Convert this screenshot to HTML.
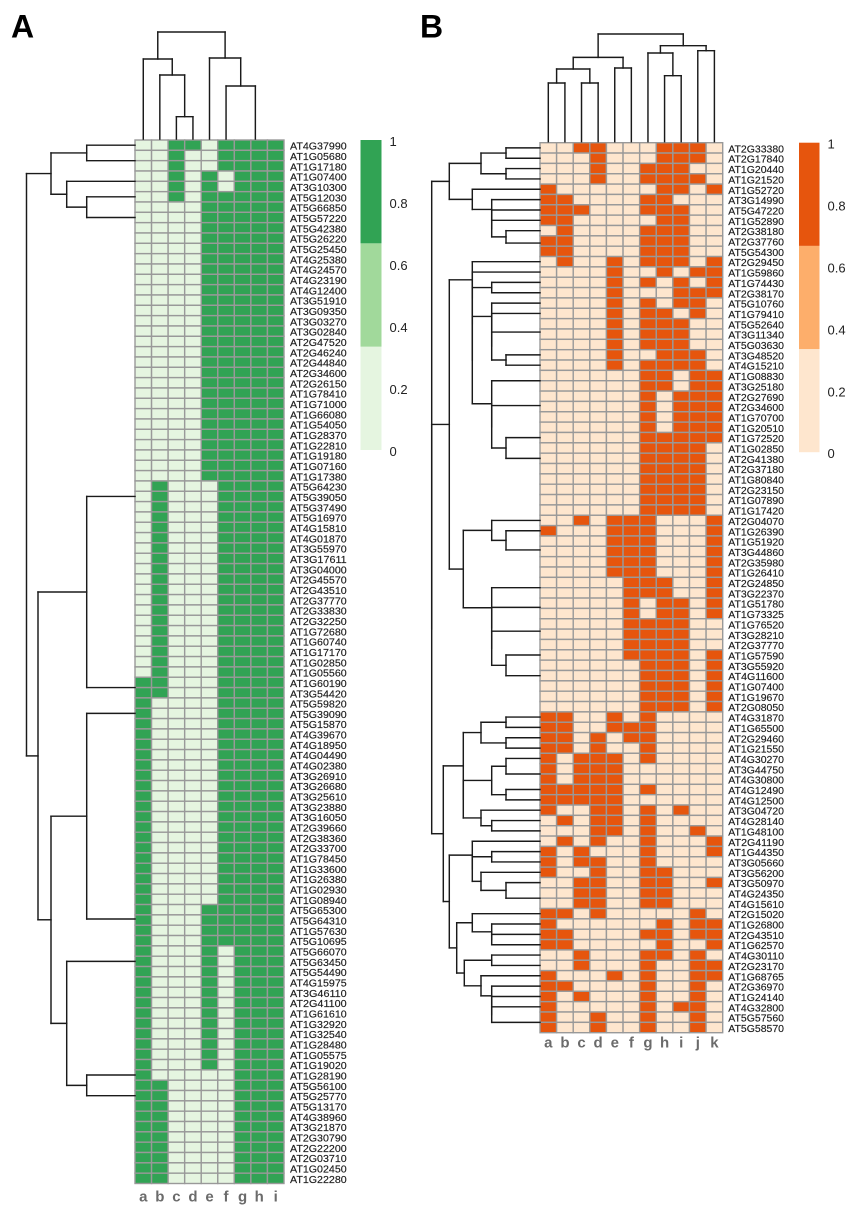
<!DOCTYPE html>
<html lang="en">
<head>
<meta charset="utf-8">
<title>Heatmaps A and B</title>
<style>
html,body{margin:0;padding:0;background:#fff;}
svg{display:block;}
text{font-family:"Liberation Sans",Arial,sans-serif;}
</style>
</head>
<body>
<svg id="figure" xmlns="http://www.w3.org/2000/svg" width="854" height="1208" viewBox="0 0 854 1208">
  <rect x="0" y="0" width="854" height="1208" fill="#ffffff"/>
  <text x="11" y="37.5" font-size="32" font-weight="bold" fill="#000">A</text>
  <text x="420" y="37.5" font-size="32" font-weight="bold" fill="#000">B</text>
</svg>
<script>
const columnsA = ["a","b","c","d","e","f","g","h","i"];
const genesA = ["AT4G37990","AT1G05680","AT1G17180","AT1G07400","AT3G10300","AT5G12030","AT5G66850","AT5G57220","AT5G42380","AT5G26220","AT5G25450","AT4G25380","AT4G24570","AT4G23190","AT4G12400","AT3G51910","AT3G09350","AT3G03270","AT3G02840","AT2G47520","AT2G46240","AT2G44840","AT2G34600","AT2G26150","AT1G78410","AT1G71000","AT1G66080","AT1G54050","AT1G28370","AT1G22810","AT1G19180","AT1G07160","AT1G17380","AT5G64230","AT5G39050","AT5G37490","AT5G16970","AT4G15810","AT4G01870","AT3G55970","AT3G17611","AT3G04000","AT2G45570","AT2G43510","AT2G37770","AT2G33830","AT2G32250","AT1G72680","AT1G60740","AT1G17170","AT1G02850","AT1G05560","AT1G60190","AT3G54420","AT5G59820","AT5G39090","AT5G15870","AT4G39670","AT4G18950","AT4G04490","AT4G02380","AT3G26910","AT3G26680","AT3G25610","AT3G23880","AT3G16050","AT2G39660","AT2G38360","AT2G33700","AT1G78450","AT1G33600","AT1G26380","AT1G02930","AT1G08940","AT5G65300","AT5G64310","AT1G57630","AT5G10695","AT5G66070","AT5G63450","AT5G54490","AT4G15975","AT3G46110","AT2G41100","AT1G61610","AT1G32920","AT1G32540","AT1G28480","AT1G05575","AT1G19020","AT1G28190","AT5G56100","AT5G25770","AT5G13170","AT4G38960","AT3G21870","AT2G30790","AT2G22200","AT2G03710","AT1G02450","AT1G22280"];
const valuesA = [
[0,0,1,1,0,1,1,1,1],[0,0,1,0,0,1,1,1,1],[0,0,1,0,0,1,1,1,1],[0,0,1,0,1,0,1,1,1],[0,0,1,0,1,0,1,1,1],[0,0,1,0,1,1,1,1,1],
[0,0,0,0,1,1,1,1,1],[0,0,0,0,1,1,1,1,1],[0,0,0,0,1,1,1,1,1],[0,0,0,0,1,1,1,1,1],[0,0,0,0,1,1,1,1,1],[0,0,0,0,1,1,1,1,1],[0,0,0,0,1,1,1,1,1],[0,0,0,0,1,1,1,1,1],[0,0,0,0,1,1,1,1,1],[0,0,0,0,1,1,1,1,1],[0,0,0,0,1,1,1,1,1],[0,0,0,0,1,1,1,1,1],[0,0,0,0,1,1,1,1,1],[0,0,0,0,1,1,1,1,1],[0,0,0,0,1,1,1,1,1],[0,0,0,0,1,1,1,1,1],[0,0,0,0,1,1,1,1,1],[0,0,0,0,1,1,1,1,1],[0,0,0,0,1,1,1,1,1],[0,0,0,0,1,1,1,1,1],[0,0,0,0,1,1,1,1,1],[0,0,0,0,1,1,1,1,1],[0,0,0,0,1,1,1,1,1],[0,0,0,0,1,1,1,1,1],[0,0,0,0,1,1,1,1,1],[0,0,0,0,1,1,1,1,1],[0,0,0,0,1,1,1,1,1],
[0,1,0,0,0,1,1,1,1],[0,1,0,0,0,1,1,1,1],[0,1,0,0,0,1,1,1,1],[0,1,0,0,0,1,1,1,1],[0,1,0,0,0,1,1,1,1],[0,1,0,0,0,1,1,1,1],[0,1,0,0,0,1,1,1,1],[0,1,0,0,0,1,1,1,1],[0,1,0,0,0,1,1,1,1],[0,1,0,0,0,1,1,1,1],[0,1,0,0,0,1,1,1,1],[0,1,0,0,0,1,1,1,1],[0,1,0,0,0,1,1,1,1],[0,1,0,0,0,1,1,1,1],[0,1,0,0,0,1,1,1,1],[0,1,0,0,0,1,1,1,1],[0,1,0,0,0,1,1,1,1],[0,1,0,0,0,1,1,1,1],[0,1,0,0,0,1,1,1,1],
[1,1,0,0,0,1,1,1,1],[1,1,0,0,0,1,1,1,1],
[1,0,0,0,0,1,1,1,1],[1,0,0,0,0,1,1,1,1],[1,0,0,0,0,1,1,1,1],[1,0,0,0,0,1,1,1,1],[1,0,0,0,0,1,1,1,1],[1,0,0,0,0,1,1,1,1],[1,0,0,0,0,1,1,1,1],[1,0,0,0,0,1,1,1,1],[1,0,0,0,0,1,1,1,1],[1,0,0,0,0,1,1,1,1],[1,0,0,0,0,1,1,1,1],[1,0,0,0,0,1,1,1,1],[1,0,0,0,0,1,1,1,1],[1,0,0,0,0,1,1,1,1],[1,0,0,0,0,1,1,1,1],[1,0,0,0,0,1,1,1,1],[1,0,0,0,0,1,1,1,1],[1,0,0,0,0,1,1,1,1],[1,0,0,0,0,1,1,1,1],[1,0,0,0,0,1,1,1,1],
[1,0,0,0,1,1,1,1,1],[1,0,0,0,1,1,1,1,1],[1,0,0,0,1,1,1,1,1],[1,0,0,0,1,1,1,1,1],
[1,0,0,0,1,0,1,1,1],[1,0,0,0,1,0,1,1,1],[1,0,0,0,1,0,1,1,1],[1,0,0,0,1,0,1,1,1],[1,0,0,0,1,0,1,1,1],[1,0,0,0,1,0,1,1,1],[1,0,0,0,1,0,1,1,1],[1,0,0,0,1,0,1,1,1],[1,0,0,0,1,0,1,1,1],[1,0,0,0,1,0,1,1,1],[1,0,0,0,1,0,1,1,1],[1,0,0,0,1,0,1,1,1],
[1,0,0,0,0,0,1,1,1],
[1,1,0,0,0,0,1,1,1],[1,1,0,0,0,0,1,1,1],[1,1,0,0,0,0,1,1,1],[1,1,0,0,0,0,1,1,1],[1,1,0,0,0,0,1,1,1],[1,1,0,0,0,0,1,1,1],[1,1,0,0,0,0,1,1,1],[1,1,0,0,0,0,1,1,1],[1,1,0,0,0,0,1,1,1],[1,1,0,0,0,0,1,1,1]
];
/* dendrograms: [height, childA, childB]; a bare number is a leaf placed at that row/column index */
const rowTreeA = [1.085,
  [.84,[.483,0,1.5],[.683,3.5,[.483,5,7]]],
  [.97,[.483,34,52.5],[.84,[.483,55,74.9],[.683,79,[.483,90,92]]]]
];
const colTreeA = [1.07,[.80,0,[.64,1,[.223,2,3]]],[.81,4,[.53,5,6.77]]];

const columnsB = ["a","b","c","d","e","f","g","h","i","j","k"];
const genesB = ["AT2G33380","AT2G17840","AT1G20440","AT1G21520","AT1G52720","AT3G14990","AT5G47220","AT1G52890","AT2G38180","AT2G37760","AT5G54300","AT2G29450","AT1G59860","AT1G74430","AT2G38170","AT5G10760","AT1G79410","AT5G52640","AT3G11340","AT5G03630","AT3G48520","AT4G15210","AT1G08830","AT3G25180","AT2G27690","AT2G34600","AT1G70700","AT1G20510","AT1G72520","AT1G02850","AT2G41380","AT2G37180","AT1G80840","AT2G23150","AT1G07890","AT1G17420","AT2G04070","AT1G26390","AT1G51920","AT3G44860","AT2G35980","AT1G26410","AT2G24850","AT3G22370","AT1G51780","AT1G73325","AT1G76520","AT3G28210","AT2G37770","AT1G57590","AT3G55920","AT4G11600","AT1G07400","AT1G19670","AT2G08050","AT4G31870","AT1G65500","AT2G29460","AT1G21550","AT4G30270","AT3G44750","AT4G30800","AT4G12490","AT4G12500","AT3G04720","AT4G28140","AT1G48100","AT2G41190","AT1G44350","AT3G05660","AT3G56200","AT3G50970","AT4G24350","AT4G15610","AT2G15020","AT1G26800","AT2G43510","AT1G62570","AT4G30110","AT2G23170","AT1G68765","AT2G36970","AT1G24140","AT4G32800","AT5G57560","AT5G58570"];
const valuesB = [
[0,0,1,1,0,0,0,1,1,1,0],[0,0,0,1,0,0,0,1,1,1,0],[0,0,0,1,0,0,1,1,1,0,0],[0,0,0,1,0,0,1,1,1,1,0],[1,0,0,0,0,0,0,1,1,0,1],
[1,1,0,0,0,0,1,1,0,0,0],[1,1,1,0,0,0,1,1,1,0,0],[1,1,0,0,0,0,0,1,1,0,0],[0,1,0,0,0,0,1,1,1,0,0],[1,1,0,0,0,0,1,1,1,0,0],[1,1,0,0,0,0,1,1,1,0,0],
[0,1,0,0,1,0,1,1,1,0,1],[0,0,0,0,1,0,0,1,0,1,1],[0,0,0,0,1,0,1,0,1,0,1],[0,0,0,0,1,0,0,0,1,1,1],[0,0,0,0,1,0,1,0,1,1,0],[0,0,0,0,1,0,1,1,0,1,0],[0,0,0,0,1,0,1,1,1,0,0],[0,0,0,0,1,0,1,1,1,0,0],[0,0,0,0,1,0,1,1,1,0,0],[0,0,0,0,1,0,0,1,1,1,0],[0,0,0,0,1,0,1,1,1,1,0],
[0,0,0,0,0,0,1,1,0,1,1],[0,0,0,0,0,0,1,1,0,1,1],[0,0,0,0,0,0,1,0,1,1,1],[0,0,0,0,0,0,1,0,1,1,1],[0,0,0,0,0,0,1,0,1,1,1],[0,0,0,0,0,0,1,0,1,1,1],[0,0,0,0,0,0,1,1,1,1,1],
[0,0,0,0,0,0,1,1,1,1,0],[0,0,0,0,0,0,1,1,1,1,0],[0,0,0,0,0,0,1,1,1,1,0],[0,0,0,0,0,0,1,1,1,1,0],[0,0,0,0,0,0,1,1,1,1,0],[0,0,0,0,0,0,1,1,1,1,0],[0,0,0,0,0,0,1,1,1,1,0],
[0,0,1,0,1,1,1,0,0,0,1],[1,0,0,0,1,1,1,0,0,0,1],[0,0,0,0,1,1,1,0,0,0,1],[0,0,0,0,1,1,1,0,0,0,1],[0,0,0,0,1,1,1,0,0,0,1],[0,0,0,0,1,1,1,0,0,0,1],
[0,0,0,0,0,1,1,1,0,0,1],[0,0,0,0,0,1,1,1,0,0,1],[0,0,0,0,0,1,0,1,1,0,1],[0,0,0,0,0,1,0,1,1,0,1],[0,0,0,0,0,1,1,1,1,0,0],[0,0,0,0,0,1,1,1,1,0,0],[0,0,0,0,0,1,1,1,1,0,0],[0,0,0,0,0,1,1,1,1,0,1],
[0,0,0,0,0,0,1,1,1,0,1],[0,0,0,0,0,0,1,1,1,0,1],[0,0,0,0,0,0,1,1,1,0,1],[0,0,0,0,0,0,1,1,1,0,1],[0,0,0,0,0,0,1,1,1,0,1],
[1,1,0,0,1,0,1,0,0,0,0],[1,1,0,0,1,1,1,0,0,0,0],[1,1,0,1,0,1,1,0,0,0,0],[1,1,0,1,0,0,1,0,0,0,0],[1,0,1,1,1,0,1,0,0,0,0],[1,0,1,1,1,0,0,0,0,0,0],[1,0,1,1,1,0,0,0,0,0,0],[1,1,1,1,1,0,1,0,0,0,0],[1,1,1,1,1,0,0,0,0,0,0],
[1,0,0,1,1,0,1,0,1,0,0],[0,1,0,1,1,0,1,0,0,0,0],[0,0,0,1,1,0,1,0,0,1,0],[0,1,0,1,0,0,1,0,0,0,1],[1,0,1,0,0,0,1,0,0,0,1],[1,0,1,1,0,0,1,0,0,0,0],[1,0,0,1,0,0,1,1,0,0,0],[0,0,1,1,0,0,1,1,0,0,1],[0,0,1,1,0,0,1,1,0,0,0],[0,0,1,1,0,0,1,1,0,0,0],
[1,1,0,1,0,0,0,0,0,1,0],[1,0,0,0,0,0,0,1,0,1,1],[1,1,0,0,0,0,1,1,0,1,1],[1,1,0,0,0,0,0,1,0,0,1],[0,0,1,0,0,0,1,1,0,1,0],[0,0,1,0,0,0,1,0,0,1,1],[1,0,0,0,1,0,1,0,0,1,1],[1,1,0,0,0,0,1,0,0,1,0],[1,0,1,0,0,0,1,0,0,1,0],[1,0,0,0,0,0,1,0,1,1,0],[1,0,0,1,0,0,1,0,0,1,0],[1,0,0,1,0,0,1,0,0,1,0]
];
const rowTreeB = [1.083,
  [.907,[.59,[.34,0,1],[.34,2,3]],[.677,4,[.483,5,[.483,6,[.483,7,[.34,8,9.2]]]]]],
  [1.083,
    [.907,
      [.677,11,[.677,12,[.677,[.483,13,14],[.677,
        [.483,15,[.483,16,[.483,17.8,[.34,20,21]]]],
        [.483,22.5,[.483,24.9,[.34,28,30]]]
      ]]]],
      [.767,
        [.483,36,[.34,37,38.85]],
        [.483,42.5,[.483,44.4,[.483,46.7,[.34,49,51]]]]
      ]
    ],
    [.967,
      [.767,[.59,[.34,55,56],[.34,57,58]],[.767,[.483,[.34,59,60.5],[.34,62,63]],[.59,64,[.483,65,66]]]],
      [.907,
        [.677,67,[.677,[.483,68,69],[.59,70,[.34,71,72.5]]]],
        [.833,
          [.677,74,[.483,75,[.483,76,77]]],
          [.757,[.483,78,79],[.59,80,[.483,81,[.483,82,[.483,83,84.5]]]]]
        ]
      ]
    ]
  ]
];
const colTreeB = [1.077,[.843,[.727,[.587,0,1],[.587,2,3]],[.737,4,5]],[.96,[.887,6,[.66,7,8]],[.91,9,10]]];

const legendTicks = [0,0.2,0.4,0.6,0.8,1];
const legendBins = [0,1/3,2/3,1];
const greens = ["#E5F5E0","#A1D99B","#31A354"];
const oranges = ["#FEE6CE","#FDAE6B","#E6550D"];

const NS = "http://www.w3.org/2000/svg";
const svg = document.getElementById("figure");

function make(tag, attrs, parent){
  const el = document.createElementNS(NS, tag);
  for (const k in attrs) el.setAttribute(k, attrs[k]);
  parent.appendChild(el);
  return el;
}
function binColor(v, palette){
  const i = v >= legendBins[2] ? 2 : (v >= legendBins[1] ? 1 : 0);
  return palette[i];
}
function treeHeight(t){ return Array.isArray(t) ? t[0] : 0; }

/* draws a tree; place(pos) maps leaf index to px, depth(h) maps height to px */
function drawTree(tree, place, depth, horizontal, group){
  function line(x1,y1,x2,y2){
    const el = make("line", horizontal ? {x1:x1,y1:y1,x2:x2,y2:y2} : {x1:y1,y1:x1,x2:y2,y2:x2}, group);
    
    
  }
  function walk(t){
    if (!Array.isArray(t)) return place(t);
    const a = walk(t[1]);
    const b = walk(t[2]);
    const d = depth(t[0]);
    line(d, a, d, b);
    if (treeHeight(t[1]) !== t[0]) line(d, a, depth(treeHeight(t[1])), a);
    if (treeHeight(t[2]) !== t[0]) line(d, b, depth(treeHeight(t[2])), b);
    return (a + b) / 2;
  }
  walk(tree);
}

function drawPanel(cfg){
  const nRows = cfg.genes.length;
  const nCols = cfg.columns.length;
  const cw = (cfg.x1 - cfg.x0) / nCols;
  const rh = (cfg.y1 - cfg.y0) / nRows;
  const xScale = function(c){ return cfg.x0 + c * cw; };
  const yScale = function(r){ return cfg.y0 + r * rh; };

  const panel = make("g", {}, svg);
  
  

  /* heatmap cells */
  const cells = make("g", {stroke:"#999999","stroke-width":"1.4"}, panel);
  
  
  cfg.values.forEach(function(row, r){
    row.forEach(function(v, c){
      const cell = make("rect", {x:xScale(c).toFixed(2), y:yScale(r).toFixed(2), width:cw.toFixed(2), height:rh.toFixed(2), fill:binColor(v, cfg.palette)}, cells);
      
      
    });
  });

  /* gene labels */
  const rowLabels = make("g", {"font-size":"10",fill:"#1c1c1c",stroke:"#1c1c1c","stroke-width":"0.15"}, panel);
  
  
  cfg.genes.forEach(function(g, r){
    const t = make("text", {x:cfg.labelX, y:(yScale(r + .5) + 4.5).toFixed(2), textLength:cfg.labelW, lengthAdjust:"spacingAndGlyphs"}, rowLabels);
    
    
    t.textContent = g;
  });

  /* column labels */
  const colLabels = make("g", {"font-size":"15","font-weight":"bold",fill:"#6b6b6b","text-anchor":"middle"}, panel);
  
  
  cfg.columns.forEach(function(c, i){
    const t = make("text", {x:xScale(i + .5).toFixed(2), y:cfg.colLabelY}, colLabels);
    
    
    t.textContent = c;
  });

  /* dendrograms */
  const rowDendro = make("g", {stroke:"#1a1a1a","stroke-width":"1.45","stroke-linecap":"square",fill:"none"}, panel);
  
  
  drawTree(cfg.rowTree, function(p){ return yScale(p + .5); }, function(h){ return cfg.x0 - 100 * h; }, true, rowDendro);

  const colDendro = make("g", {stroke:"#1a1a1a","stroke-width":"1.45","stroke-linecap":"square",fill:"none"}, panel);
  
  
  drawTree(cfg.colTree, function(p){ return xScale(p + .5); }, function(h){ return cfg.y0 - 1 - 100 * h; }, false, colDendro);

  /* legend */
  const legend = make("g", {}, panel);
  
  
  const ly = function(v){ return cfg.legendTop + (1 - v) * cfg.legendH; };
  for (let i = 0; i < legendBins.length - 1; i++){
    const seg = make("rect", {x:cfg.legendX, y:ly(legendBins[i + 1]).toFixed(2), width:cfg.legendW, height:(ly(legendBins[i]) - ly(legendBins[i + 1])).toFixed(2), fill:cfg.palette[i]}, legend);
    
    
  }
  legendTicks.forEach(function(v){
    const t = make("text", {x:cfg.legendX + cfg.legendW + 8, y:(ly(v) + 6).toFixed(2), "font-size":"13", fill:"#222"}, legend);
    
    
    t.textContent = String(v);
  });
}

drawPanel({name:"panel-a", columns:columnsA, genes:genesA, values:valuesA, rowTree:rowTreeA, colTree:colTreeA, palette:greens,
  x0:135, x1:284, y0:140, y1:1183.5, labelX:290, labelW:56.7, colLabelY:1201.5,
  legendX:360.5, legendW:21, legendTop:140, legendH:310});
drawPanel({name:"panel-b", columns:columnsB, genes:genesB, values:valuesB, rowTree:rowTreeB, colTree:colTreeB, palette:oranges,
  x0:540, x1:722.7, y0:142.7, y1:1032.7, labelX:728.3, labelW:55.7, colLabelY:1047.5,
  legendX:799, legendW:20.5, legendTop:142.7, legendH:309.5});
</script>
</body>
</html>
